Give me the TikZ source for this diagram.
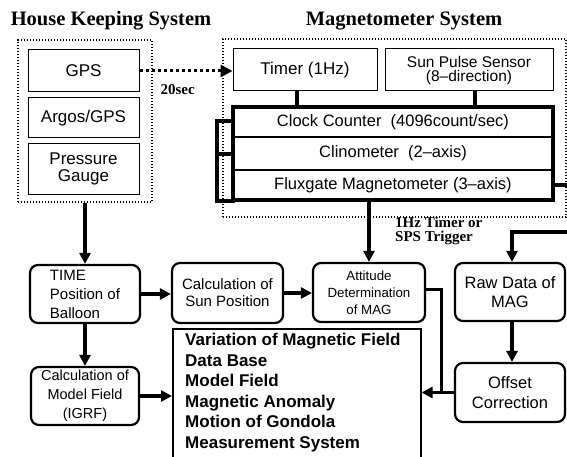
\documentclass[tikz,border=0pt]{standalone}
\usepackage{fontspec}
\setmainfont{Liberation Serif}
\setsansfont{Liberation Sans}
\usetikzlibrary{arrows.meta,positioning}
\tikzset{
  grp/.style={draw, line width=1.4pt, dash pattern=on 1.4pt off 1.6pt},
  unit/.style={draw, line width=1pt, align=center, inner sep=0pt,
               font=\sffamily\fontsize{17}{16.5}\selectfont},
  row/.style={draw, line width=1.2pt, inner sep=0pt, outer sep=0pt, minimum width=320pt,
              font=\sffamily\fontsize{16.5}{18}\selectfont},
  tab/.style={draw, line width=3.2pt, minimum width=16pt, inner sep=0pt, outer sep=0pt},
  rbox/.style={draw, line width=2.2pt, rounded corners=8pt, align=center, inner sep=0pt,
               minimum width=110pt, minimum height=58pt},
  ln/.style={line width=3.2pt},
  arr/.style={ln, -{Triangle[length=11pt,width=11pt]}},
  darr/.style={line width=3pt, dash pattern=on 3pt off 3pt, -{Triangle[length=12pt,width=12pt]}},
  ttl/.style={font=\bfseries\fontsize{20.5}{22}\selectfont},
  note/.style={font=\bfseries\fontsize{15}{14}\selectfont, align=left, inner sep=0pt}
}

\begin{document}
\begin{tikzpicture}[x=1pt,y=-1pt]
  \useasboundingbox (0,0) rectangle (567,457);
  % house keeping side
  \node[ttl] (hkt) at (111,21) {House Keeping System};
  \node[grp, minimum width=134pt, minimum height=162pt] (hk) at (85,121) {};
  \node[unit, minimum width=111pt, minimum height=42pt] (gps) at (83.5,71) {GPS};
  \node[unit, minimum width=111pt, minimum height=40pt, below=5pt of gps] (argos) {Argos/GPS};
  \node[unit, minimum width=111pt, minimum height=50pt, below=5pt of argos] (pres) {Pressure\\Gauge};
  % magnetometer side
  \node[ttl] (magt) at (404,21) {Magnetometer System};
  \node[grp, minimum width=343pt, minimum height=178pt] (mag) at (394.5,128) {};
  \node[unit, minimum width=144pt, minimum height=42pt] (timer) at (305,70) {Timer (1Hz)};
  \node[unit, minimum width=168pt, minimum height=42pt,
        font=\sffamily\fontsize{15.5}{14}\selectfont] (sps) at (469,70) {Sun Pulse Sensor\\(8--direction)};
  \node[row, minimum height=30pt] (clock) at (393,122) {Clock Counter\ \ (4096count/sec)};
  \node[row, minimum height=33pt, below=0pt of clock] (clino) {Clinometer\ \ (2--axis)};
  \node[row, minimum height=30pt, below=0pt of clino] (flux) {Fluxgate Magnetometer (3--axis)};
  \draw[line width=3.8pt] (clock.north west) rectangle (flux.south east);
  \node[tab, minimum height=33pt] (taba) at (225,137.5) {};
  \node[tab, minimum height=47pt, below=0pt of taba] (tabb) {};
  \draw[ln] ([xshift=-8pt]timer.south) -- ([xshift=-8pt]timer.south |- clock.north);
  \draw[ln] ([xshift=6pt]sps.south) -- ([xshift=6pt]sps.south |- clock.north);
  \draw[darr] (gps.east) -- (gps.east -| timer.west)
    node[note, pos=0.41, below=12pt] {20sec};

  % processing
  \node[rbox, align=left, font=\sffamily\fontsize{15}{19}\selectfont] (time) at (85,294) {TIME\\Position of\\Balloon};
  \node[rbox, minimum width=111pt, minimum height=60pt,
        font=\sffamily\fontsize{15}{17}\selectfont] (sun) at (227.5,293) {Calculation of\\Sun Position};
  \node[rbox, minimum width=112pt, minimum height=59pt,
        font=\sffamily\fontsize{13.3}{17}\selectfont] (att) at (369,292.5) {Attitude\\Determination\\of MAG};
  \node[rbox, font=\sffamily\fontsize{16.5}{19}\selectfont] (raw) at (510,292) {Raw Data of\\MAG};
  \node[rbox, minimum height=59pt, font=\sffamily\fontsize{16.5}{20}\selectfont] (ofs) at (510,392.5) {Offset\\Correction};
  \node[rbox, minimum width=108pt, font=\sffamily\fontsize{14.5}{19}\selectfont] (model) at (85,396) {Calculation of\\Model Field\\(IGRF)};
  \node[draw, line width=1.6pt, minimum width=248pt, minimum height=160pt, anchor=north west] (res) at (172,328) {};
  \node[anchor=north west, align=left, inner sep=0pt,
        font=\sffamily\bfseries\fontsize{17}{20.6}\selectfont] (restext) at ([xshift=13pt,yshift=-5pt]res.north west)
    {Variation of Magnetic Field\\Data Base\\Model Field\\Magnetic Anomaly\\Motion of Gondola\\Measurement System};
  \node[note, anchor=north west] (trig) at (395,217) {1Hz Timer or\\SPS Trigger};

  \draw[arr] (hk.south) -- (time.north);
  \draw[arr] (time.east) -- (time.east -| sun.west);
  \draw[arr] (sun.east) -- (sun.east -| att.west);
  \draw[arr] (time.south) -- (model.north);
  \draw[arr] (model.east) -- (model.east -| res.west);
  \draw[arr] (flux.south -| att.north) -- (att.north);
  \draw[arr] (flux.east) -- ++(24,0) -- ++(0,47) -| ([xshift=2pt]raw.north);
  \draw[arr] ([xshift=2pt]raw.south) -- ([xshift=2pt]ofs.north);
  \draw[ln] ([yshift=3pt]att.east) -- ++(15,0) |- (ofs.west);
  \draw[arr] (ofs.west) -- (ofs.west -| res.east);
\end{tikzpicture}
\end{document}
